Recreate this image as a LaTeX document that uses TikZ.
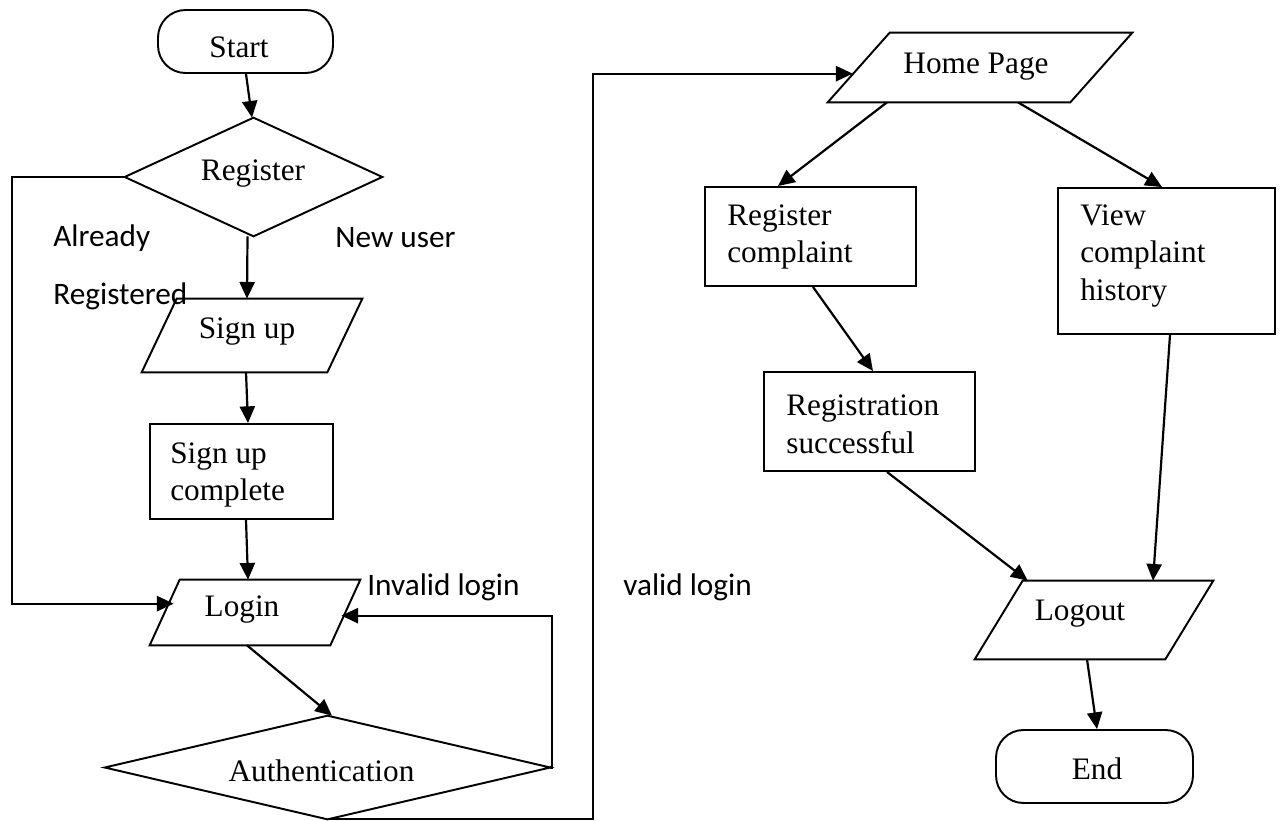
\documentclass[tikz,border=0pt]{standalone}
\usepackage{fontspec}
\setmainfont{Liberation Serif}
\newfontfamily\calibrifont{Carlito}
\usetikzlibrary{calc,arrows.meta}

\tikzset{
  outline/.style={line width=1.1pt, line join=miter},
  frame/.style={inner sep=0pt},
  terminal/.style={draw, line width=1.1pt, rounded corners=0.55cm, inner sep=0pt},
  procbox/.style={draw, line width=1.1pt, inner sep=0pt},
  txt/.style={inner sep=0pt, align=left, font=\fontsize{17.8}{21.5}\selectfont},
  note/.style={inner sep=0pt, anchor=west, font=\calibrifont\fontsize{17.8}{21.5}\selectfont},
  flow/.style={line width=1.25pt, -{Triangle[length=9.5pt,width=8.6pt]}},
}

\begin{document}
\begin{tikzpicture}[x=0.02cm, y=-0.02cm]
\useasboundingbox (0,0) rectangle (1282,821);

% ---- shapes ----
\node[terminal, minimum width=3.5cm, minimum height=1.26cm] (start) at (245.5,41.5) {};
\node[txt] (startT) at (239,47) {Start};

\node[frame, minimum width=5.14cm, minimum height=2.36cm] (reg) at (253.5,177) {};
\draw[outline] (reg.north) -- (reg.east) -- (reg.south) -- (reg.west) -- cycle;
\node[txt] (regT) at (253,174) {Register};

\node[frame, minimum width=4.4cm, minimum height=1.46cm] (signup) at (252,335.5) {};
\draw[outline] ($(signup.north west)+(35,0)$) -- (signup.north east)
  -- ($(signup.south east)+(-35,0)$) -- (signup.south west) -- cycle;
\node[txt] (signupT) at (247,332) {Sign up};

\node[procbox, minimum width=3.66cm, minimum height=1.9cm] (supc) at (241.5,471.5) {};
\node[txt, anchor=west] (supcT) at (170,475) {Sign up\\complete};

\node[frame, minimum width=4.2cm, minimum height=1.3cm] (login) at (255,612.5) {};
\draw[outline] ($(login.north west)+(30,0)$) -- (login.north east)
  -- ($(login.south east)+(-30,0)$) -- (login.south west) -- cycle;
\node[txt] (loginT) at (242,610) {Login};

\node[frame, minimum width=8.9cm, minimum height=2.06cm] (auth) at (327.5,767.5) {};
\draw[outline] (auth.north) -- (auth.east) -- (auth.south) -- (auth.west) -- cycle;
\node[txt] (authT) at (321.5,771) {Authentication};

\node[frame, minimum width=6.08cm, minimum height=1.38cm] (home) at (980,67.5) {};
\draw[outline] ($(home.north west)+(62,0)$) -- (home.north east)
  -- ($(home.south east)+(-62,0)$) -- (home.south west) -- cycle;
\node[txt] (homeT) at (976,67) {Home Page};

\node[procbox, minimum width=4.22cm, minimum height=1.98cm] (rc) at (810.5,236.5) {};
\node[txt, anchor=west] (rcT) at (727,237) {Register\\complaint};

\node[procbox, minimum width=4.34cm, minimum height=2.92cm] (vch) at (1166.5,261) {};
\node[txt, anchor=west] (vchT) at (1080,256) {View\\complaint\\history};

\node[procbox, minimum width=4.22cm, minimum height=1.98cm] (rs) at (869.5,421.5) {};
\node[txt, anchor=west] (rsT) at (786,424) {Registration\\successful};

\node[frame, minimum width=4.76cm, minimum height=1.56cm] (logout) at (1094,620) {};
\draw[outline] ($(logout.north west)+(48,0)$) -- (logout.north east)
  -- ($(logout.south east)+(-48,0)$) -- (logout.south west) -- cycle;
\node[txt] (logoutT) at (1080,614) {Logout};

\node[terminal, minimum width=3.94cm, minimum height=1.46cm] (end) at (1094.5,766.5) {};
\node[txt] (endT) at (1097,769) {End};

% ---- branch labels ----
\node[note] (already) at (53,238) {Already};
\node[note] (registered) at (53,296) {Registered};
\node[note] (newuser) at (335,238) {New user};
\node[note] (invalid) at (367,587) {Invalid login};
\node[note] (valid) at (623,587) {valid login};

% ---- connectors ----
\draw[flow] ($(start.south)+(0.5,0)$) -- ($(reg.north)+(-1.5,0)$);
\draw[flow] ($(reg.south)+(-6,0)$) -- ($(signup.north)+(-5,0)$);
\draw[flow] ($(signup.south)+(-6,0)$) -- ($(supc.north)+(6.5,0)$);
\draw[flow] ($(supc.south)+(4.5,0)$) -- ($(login.north)+(-7,0)$);
\draw[flow] (reg.west) -- ++(-113,0) |- ($(login.north west)+(24,24)$);
\draw[flow] ($(login.south)+(-8,0)$) -- ($(auth.north)+(4.5,0)$);
\draw[flow] (auth.east) -- ++(2,0) |- ($(login.north east)+(-19,36)$);
\draw[flow] (auth.south) -- ++(265.5,0) |- ($(home.north west)+(25,41)$);
\draw[flow] ($(home.south)+(-93,0)$) -- ($(rc.north)+(-32.5,0)$);
\draw[flow] ($(home.south)+(38,0)$) -- ($(vch.north)+(-4.5,0)$);
\draw[flow] ($(rc.south)+(2.5,0)$) -- ($(rs.north)+(3.5,0)$);
\draw[flow] ($(rs.south)+(17.5,0)$) -- ($(logout.north west)+(53,0)$);
\draw[flow] ($(vch.south)+(3.5,0)$) -- ($(logout.north)+(59,0)$);
\draw[flow] ($(logout.south)+(-7,0)$) -- ($(end.north)+(2.5,0)$);
\end{tikzpicture}
\end{document}
